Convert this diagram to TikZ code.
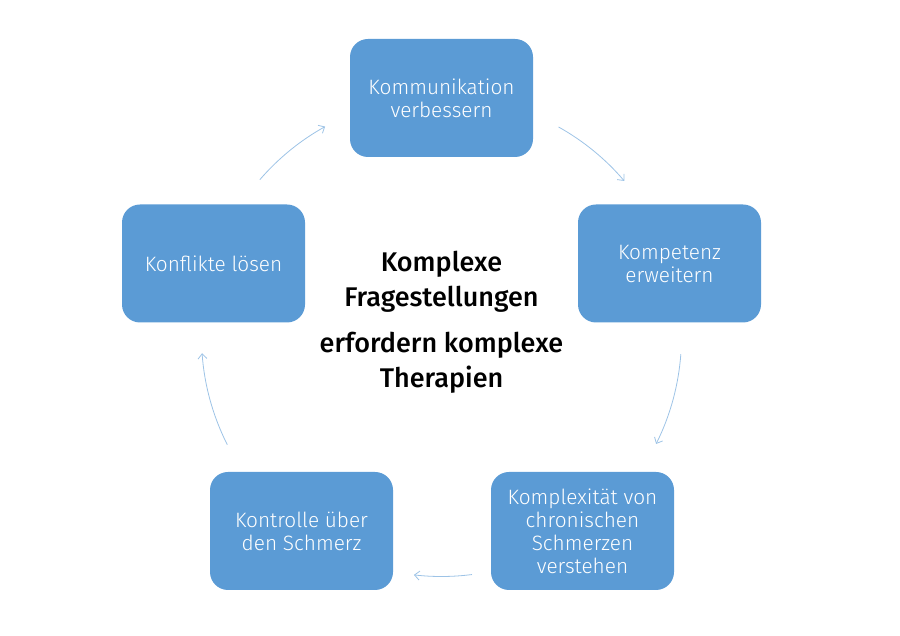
\documentclass[tikz,border=0pt]{standalone}
\usepackage{fontspec}
\setmainfont{Fira Sans}
\newfontfamily\boxfont{Fira Sans Light}
\newfontfamily\centerfont{Fira Sans Medium}
\usetikzlibrary{arrows.meta}
\definecolor{boxblue}{HTML}{5B9BD5}
\definecolor{arrblue}{HTML}{9DC3E6}
\tikzset{
  stepbox/.style={draw=none, fill=boxblue, rounded corners=18pt, minimum width=183pt, minimum height=118pt,
    text=white, align=center, font=\boxfont\fontsize{20.8}{23}\selectfont, inner sep=4pt},
  cyclearrow/.style={draw=arrblue, line width=0.8pt, -{Straight Barb[length=5pt,width=9pt]}},
  centertext/.style={align=center, font=\centerfont\fontsize{27}{35.5}\selectfont, text=black}
}
\begin{document}
\begin{tikzpicture}[x=1pt,y=1pt]
\useasboundingbox (0,0) rectangle (900,636);
\coordinate (C) at (441.5,299.5);
\node[stepbox] (top) at (441.5,538) {Kommunikation\\verbessern};
\node[stepbox] (right) at (669.5,372.5) {Kompetenz\\erweitern};
\node[stepbox] (br) at (582.5,105) {Komplexität von\\chronischen\\Schmerzen\\verstehen};
\node[stepbox] (bl) at (301.5,105) {Kontrolle über\\den Schmerz};
\node[stepbox] (left) at (213.5,372.5) {Konflikte lösen};
\node[centertext] (c1) at (441.5,354) {Komplexe\\Fragestellungen};
\node[centertext] (c2) at (441.5,273) {erfordern komplexe\\Therapien};
\draw[cyclearrow] ([shift={(139.2:240)}]C) arc[start angle=139.2, end angle=119, radius=240];
\draw[cyclearrow] ([shift={(60.8:240)}]C) arc[start angle=60.8, end angle=40.4, radius=240];
\draw[cyclearrow] ([shift={(-4.2:240)}]C) arc[start angle=-4.2, end angle=-26.6, radius=240];
\draw[cyclearrow] ([shift={(-82.7:240)}]C) arc[start angle=-82.7, end angle=-96.6, radius=240];
\draw[cyclearrow] ([shift={(-153.2:240)}]C) arc[start angle=-153.2, end angle=-176, radius=240];
\end{tikzpicture}
\end{document}
